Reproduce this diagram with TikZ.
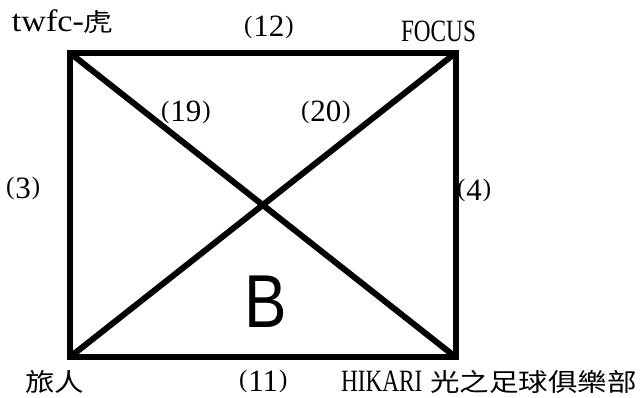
\documentclass[tikz,border=0pt]{standalone}
\usepackage{fontspec}
\setmainfont{Liberation Serif}
\newfontfamily\cjkfont[FakeStretch=1.18]{Noto Sans CJK TC}
\newfontfamily\capfont[FakeStretch=0.75]{Liberation Serif}
\newfontfamily\lowfont[FakeStretch=1.1]{Liberation Serif}
\newfontfamily\bigsans[FakeStretch=0.85]{Liberation Sans}
\newcommand\cjktext[1]{{\fontsize{25}{25}\selectfont\cjkfont #1}}
\newcommand\parenlbl[1]{\raisebox{3.5pt}{\fontsize{25}{25}\selectfont(}\kern1pt#1\kern1pt\raisebox{3.5pt}{\fontsize{25}{25}\selectfont)}}
\begin{document}
\begin{tikzpicture}[x=1pt,y=-1pt,
  edge/.style={line width=6pt,line join=miter,line cap=butt},
  lbl/.style={anchor=base west,inner sep=0pt,outer sep=0pt,font=\fontsize{31}{31}\selectfont},
  lowlbl/.style={lbl,text depth=0pt}]
\useasboundingbox (0,0) rectangle (644,398);
\coordinate (TL) at (70,53);
\coordinate (TR) at (455.5,53);
\coordinate (BR) at (455.5,357);
\coordinate (BL) at (70,357);
\draw[edge] (TL) -- (TR) -- (BR) -- (BL) -- cycle;
\draw[edge] (TL) -- (BR);
\draw[edge] (TR) -- (BL);
% corner labels
\node[lbl] (ntl) at (12,32) {{\lowfont twfc-}\cjktext{虎}};
\node[lbl] (ntr) at (401,42) {{\capfont FOCUS}};
\node[lowlbl] (nbl) at (25,391) {\cjktext{旅人}};
\node[lowlbl] (nbr) at (341,391) {{\capfont HIKARI} \cjktext{光之足球俱樂部}};
% edge labels
\node[lbl] (e12) at (244,37) {\parenlbl{12}};
\node[lbl] (e19) at (161,122) {\parenlbl{19}};
\node[lbl] (e20) at (301,122) {\parenlbl{20}};
\node[lbl] (e3) at (6,198) {\parenlbl{3}};
\node[lbl] (e4) at (457,200) {\parenlbl{4}};
\node[lowlbl] (e11) at (239,391) {\parenlbl{11}};
% centre letter
\node[anchor=base,inner sep=0pt,font=\fontsize{75}{75}\selectfont\bigsans] (B) at (266,327) {B};
\end{tikzpicture}
\end{document}
